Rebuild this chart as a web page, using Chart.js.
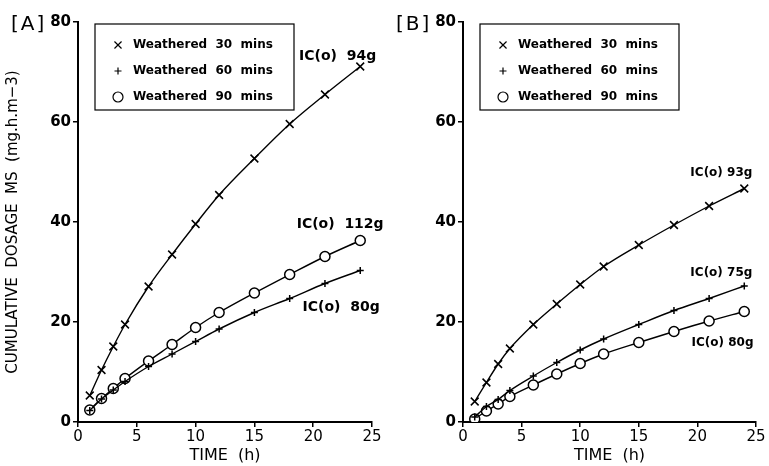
<!DOCTYPE html>
<html><head><meta charset="utf-8">
<script src="https://cdn.jsdelivr.net/npm/chart.js@4"></script>
<style>
html,body{margin:0;padding:0;background:#fff;}
#wrap{position:relative;width:769px;height:466px;background:#fff;}
.p{position:absolute;top:0;height:466px;}
#pa{left:0;width:385px;} #pb{left:385px;width:384px;}
</style></head><body>
<div id="wrap"><div class="p" id="pa"><canvas id="ca"></canvas></div><div class="p" id="pb"><canvas id="cb"></canvas></div></div>
<script>
// ---- data ----
const times = [1, 2, 3, 4, 6, 8, 10, 12, 15, 18, 21, 24];
const seriesNames = ['Weathered  30  mins', 'Weathered  60  mins', 'Weathered  90  mins'];
const a30 = [5.3, 10.4, 15.1, 19.5, 27.1, 33.5, 39.6, 45.4, 52.7, 59.6, 65.5, 71.1];
const a60 = [2.3, 4.6, 6.4, 8.1, 11.1, 13.6, 16.1, 18.6, 21.9, 24.7, 27.7, 30.3];
const a90 = [2.4, 4.7, 6.7, 8.7, 12.2, 15.5, 18.9, 21.9, 25.8, 29.5, 33.1, 36.3];
const b30 = [4.1, 7.9, 11.6, 14.7, 19.5, 23.6, 27.5, 31.1, 35.4, 39.4, 43.2, 46.7];
const b60 = [1.0, 3.1, 4.5, 6.3, 9.2, 11.9, 14.4, 16.6, 19.5, 22.3, 24.7, 27.2];
const b90 = [0.6, 2.2, 3.6, 5.1, 7.4, 9.6, 11.7, 13.6, 15.9, 18.1, 20.2, 22.1];
const xTicks = [0, 5, 10, 15, 20, 25];
const yTicks = [0, 20, 40, 60, 80];
const panelLabels = ['[A]', '[B]'];
const notesA = ['IC(o)  94g', 'IC(o)  112g', 'IC(o)  80g'];
const notesB = ['IC(o) 93g', 'IC(o) 75g', 'IC(o) 80g'];
const xTitle = 'TIME  (h)';
const yTitle = 'CUMULATIVE  DOSAGE  MS  (mg.h.m\u22123)';

// ---- styling / layout (not data) ----
const FONT = '"DejaVu Sans", sans-serif';
const styles = [
  { pointStyle: 'crossRot', pointRadius: 5.5 },
  { pointStyle: 'cross', pointRadius: 3.5 },
  { pointStyle: 'circle', pointRadius: 5 }
];
// note anchors in data coordinates (left edge, vertical middle)
const noteAnchorsA = [[18.8, 73.2], [18.6, 39.6], [19.1, 23.0]];
const noteAnchorsB = [[19.4, 49.8], [19.4, 29.8], [19.5, 15.8]];

function mkDatasets(vals) {
  return vals.map((v, i) => ({
    label: seriesNames[i],
    data: times.map((t, j) => ({ x: t, y: v[j] })),
    borderColor: '#000',
    borderWidth: 1.4,
    backgroundColor: '#fff',
    pointBorderColor: '#000',
    pointBackgroundColor: '#fff',
    pointBorderWidth: 1.5,
    pointStyle: styles[i].pointStyle,
    pointRadius: styles[i].pointRadius,
    cubicInterpolationMode: 'monotone',
    fill: false
  }));
}

const decor = {
  id: 'decor',
  afterDatasetsDraw(chart, args, opts) {
    const ctx = chart.ctx, ca = chart.chartArea;
    const xs = chart.scales.x, ys = chart.scales.y;
    ctx.save();
    // panel label
    ctx.fillStyle = '#000';
    ctx.font = '20px ' + FONT;
    ctx.textAlign = 'left'; ctx.textBaseline = 'middle';
    if ('letterSpacing' in ctx) ctx.letterSpacing = '2px';
    ctx.fillText(opts.panel, 11, 25);
    if ('letterSpacing' in ctx) ctx.letterSpacing = '0px';
    // legend box
    const bx = ca.left + 17, by = ca.top + 2, bw = 199, bh = 86;
    ctx.fillStyle = '#fff';
    ctx.fillRect(bx, by, bw, bh);
    ctx.strokeStyle = '#000'; ctx.lineWidth = 1.2;
    ctx.strokeRect(bx, by, bw, bh);
    ctx.font = 'bold 12px ' + FONT;
    seriesNames.forEach((n, i) => {
      const yy = by + 21 + i * 26;
      ctx.fillStyle = '#fff';
      ctx.strokeStyle = '#000';
      Chart.helpers.drawPoint(ctx, {
        pointStyle: styles[i].pointStyle,
        radius: i === 1 ? 3.5 : 5,
        borderWidth: 1.3
      }, bx + 23, yy);
      ctx.fillStyle = '#000';
      ctx.fillText(n, bx + 38, yy);
    });
    // notes
    ctx.font = 'bold ' + opts.noteSize + 'px ' + FONT;
    ctx.fillStyle = '#000';
    opts.notes.forEach((t, i) => {
      const a = opts.anchors[i];
      ctx.fillText(t, xs.getPixelForValue(a[0]), ys.getPixelForValue(a[1]));
    });
    ctx.restore();
  }
};

function mkChart(id, vals, panel, notes, anchors, noteSize, showYTitle) {
  return new Chart(document.getElementById(id), {
    type: 'line',
    data: { datasets: mkDatasets(vals) },
    plugins: [decor],
    options: {
      responsive: true, maintainAspectRatio: false, animation: false,
      layout: { padding: { left: 0, right: 13, top: 22, bottom: 0 } },
      plugins: {
        legend: { display: false }, tooltip: { enabled: false },
        decor: { panel, notes, anchors, noteSize }
      },
      scales: {
        x: {
          type: 'linear', min: 0, max: 25,
          afterBuildTicks: s => { s.ticks = xTicks.map(v => ({ value: v })); },
          afterFit: s => { s.height = 44; },
          grid: { drawOnChartArea: false, drawTicks: true, tickLength: 5, color: '#000', lineWidth: 1.5 },
          border: { display: true, color: '#000', width: 2 },
          ticks: { color: '#000', font: { family: FONT, size: 15 }, padding: 1, maxRotation: 0 },
          title: { display: true, text: xTitle, color: '#000', font: { family: FONT, size: 16 }, padding: { top: 0, bottom: 1 } }
        },
        y: {
          type: 'linear', min: 0, max: 80,
          afterBuildTicks: s => { s.ticks = yTicks.map(v => ({ value: v })); },
          afterFit: s => { s.width = 78; },
          grid: { drawOnChartArea: false, drawTicks: true, tickLength: 5, color: '#000', lineWidth: 1.5 },
          border: { display: true, color: '#000', width: 2 },
          ticks: { color: '#000', font: { family: FONT, size: 15, weight: 'bold' }, padding: 2 },
          title: { display: showYTitle, text: yTitle, color: '#000', font: { family: FONT, size: 15 }, padding: { top: 4, bottom: 0 } }
        }
      }
    }
  });
}

mkChart('ca', [a30, a60, a90], panelLabels[0], notesA, noteAnchorsA, 14, true);
mkChart('cb', [b30, b60, b90], panelLabels[1], notesB, noteAnchorsB, 12, false);
</script>
</body></html>
